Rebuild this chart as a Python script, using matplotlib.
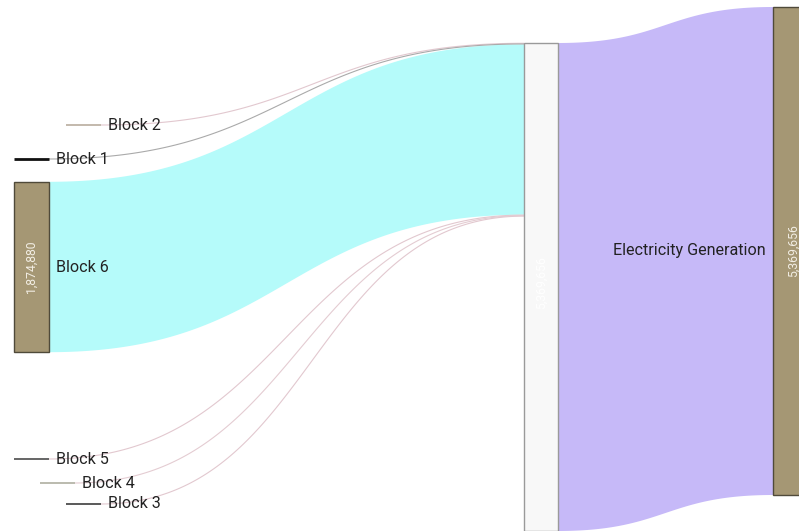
import numpy as np
import matplotlib
matplotlib.use("Agg")
import matplotlib.pyplot as plt
from matplotlib.patches import Rectangle, Polygon

plt.rcParams['font.family'] = ['Roboto', 'DejaVu Sans']

# Flow data: generating blocks feed a station, the station feeds generation
blocks = ["Block 2", "Block 1", "Block 6", "Block 5", "Block 4", "Block 3"]
block_values = [6000, 9000, 1874880, 7000, 5000, 6000]
station_value = 5369656
generation_label = "Electricity Generation"
generation_value = 5369656

# Layout (pixel space)
W, H = 799, 531
node_w = 35
scale = 488 / generation_value          # pixels per unit
block_x = {"Block 2": 66, "Block 1": 14, "Block 6": 14,
           "Block 5": 14, "Block 4": 40, "Block 3": 66}
block_cy = {"Block 2": 125, "Block 1": 159, "Block 6": 267,
            "Block 5": 459, "Block 4": 483, "Block 3": 504}
block_color = {"Block 2": "#b3a596", "Block 1": "#111111", "Block 6": "#a59774",
               "Block 5": "#3c3c3c", "Block 4": "#a8a898", "Block 3": "#2c2c2c"}
link_color = {"Block 2": "#e2c8cf", "Block 1": "#aaaaaa", "Block 6": "#b5fbfa",
              "Block 5": "#e2c8cf", "Block 4": "#e4ccd2", "Block 3": "#e2c8cf"}
mid_x, mid_top = 524, 43
gen_x, gen_top = 773, 7

fig = plt.figure(figsize=(W / 100, H / 100), dpi=100)
ax = fig.add_axes([0, 0, 1, 1])
ax.set_xlim(0, W)
ax.set_ylim(H, 0)
ax.axis("off")


def bezier(x0, y0, x1, y1, n=120):
    t = np.linspace(0, 1, n)
    xm = (x0 + x1) / 2
    x = (1 - t) ** 3 * x0 + 3 * (1 - t) ** 2 * t * xm + 3 * (1 - t) * t ** 2 * xm + t ** 3 * x1
    y = (1 - t) ** 3 * y0 + 3 * (1 - t) ** 2 * t * y0 + 3 * (1 - t) * t ** 2 * y1 + t ** 3 * y1
    return x, y


def band(x0, y0a, y0b, x1, y1a, y1b, color, z=1):
    xt, yt = bezier(x0, y0a, x1, y1a)
    xb, yb = bezier(x0, y0b, x1, y1b)
    pts = np.vstack([np.column_stack([xt, yt]), np.column_stack([xb[::-1], yb[::-1]])])
    ax.add_patch(Polygon(pts, closed=True, facecolor=color, edgecolor="none", zorder=z))


# Station node height follows its outgoing value
mid_h = station_value * scale
gen_h = generation_value * scale

# Links from blocks into the station, stacked from the top
cursor = mid_top
for name, v in zip(blocks, block_values):
    h = v * scale
    x0 = block_x[name] + node_w
    if h >= 3:
        y0 = block_cy[name] - h / 2
        band(x0, y0, y0 + h, mid_x, cursor, cursor + h, link_color[name], z=1)
    else:
        xc, yc = bezier(x0, block_cy[name], mid_x, cursor + h / 2)
        ax.plot(xc, yc, color=link_color[name], lw=0.8, zorder=2, solid_capstyle="butt")
    cursor += h

# Station -> generation link
band(mid_x + node_w - 1, mid_top, mid_top + mid_h, gen_x, gen_top, gen_top + gen_h,
     "#c6b9f8", z=1)

# Block nodes
for name, v in zip(blocks, block_values):
    h = v * scale
    x = block_x[name]
    if h >= 3:
        y = block_cy[name] - h / 2
        ax.add_patch(Rectangle((x, y), node_w, h, facecolor=block_color[name],
                               edgecolor="#4f4a3a", lw=1.0, zorder=3))
        ax.text(x + node_w / 2, block_cy[name], f"{v:,}", rotation=90, ha="center",
                va="center", fontsize=8.8, color="#f2eee4", zorder=4)
    else:
        lw = 2.0 if name == "Block 1" else 1.1
        ax.plot([x, x + node_w], [block_cy[name]] * 2, color=block_color[name],
                lw=lw, zorder=3, solid_capstyle="butt")
    ax.text(x + node_w + 7, block_cy[name], name, ha="left", va="center",
            fontsize=11.6, color="#222222", zorder=5)

# Station node
ax.add_patch(Rectangle((mid_x, mid_top), node_w - 1, mid_h, facecolor="#f8f8f8",
                       edgecolor="#9a9a9a", lw=1.0, zorder=3))
ax.text(mid_x + (node_w - 1) / 2, mid_top + 240, f"{station_value:,}", rotation=90,
        ha="center", va="center", fontsize=8.8, color="#ffffff", zorder=4)

# Generation node
ax.add_patch(Rectangle((gen_x, gen_top), W - gen_x + 2, gen_h, facecolor="#a59774",
                       edgecolor="#4f4a3a", lw=1.0, zorder=3))
ax.text(gen_x + 20, gen_top + gen_h / 2, f"{generation_value:,}", rotation=90,
        ha="center", va="center", fontsize=8.8, color="#f2eee4", zorder=4)
ax.text(gen_x - 7, gen_top + gen_h / 2, generation_label, ha="right", va="center",
        fontsize=11.6, color="#222222", zorder=5)

fig.savefig("out.png", dpi=100, facecolor="white")
